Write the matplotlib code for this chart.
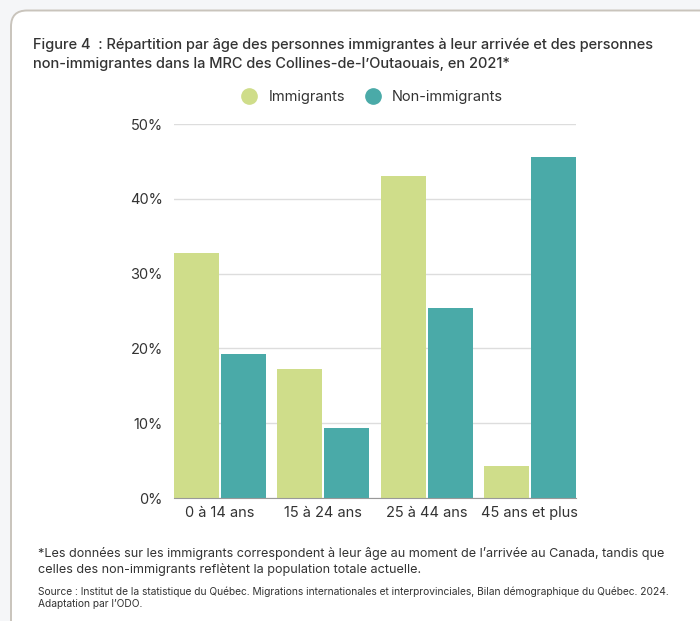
import matplotlib
matplotlib.use('Agg')
import matplotlib.pyplot as plt
from matplotlib.patches import FancyBboxPatch
from matplotlib.lines import Line2D
from matplotlib.transforms import IdentityTransform
import numpy as np

categories = ['0 à 14 ans', '15 à 24 ans', '25 à 44 ans', '45 ans et plus']
immigrants = [32.7, 17.2, 43.0, 4.3]
non_immigrants = [19.3, 9.4, 25.4, 45.6]
y_ticks = [0, 10, 20, 30, 40, 50]

title = ("Figure 4  : Répartition par âge des personnes immigrantes à leur arrivée et des personnes\n"
         "non-immigrantes dans la MRC des Collines-de-l’Outaouais, en 2021*")
note = ("*Les données sur les immigrants correspondent à leur âge au moment de l’arrivée au Canada, tandis que\n"
        "celles des non-immigrants reflètent la population totale actuelle.")
source = ("Source : Institut de la statistique du Québec. Migrations internationales et interprovinciales, "
          "Bilan démographique du Québec. 2024.\nAdaptation par l’ODO.")

c_imm = '#cfdd8a'
c_non = '#4aaaa8'
txt = '#333333'

plt.rcParams['font.family'] = ['Inter', 'DejaVu Sans']

W, H = 700, 621
fig = plt.figure(figsize=(W / 100, H / 100), dpi=100)
fig.patch.set_facecolor('#f5f6f8')

# white card with rounded corner, running off the right and bottom edges
box = FancyBboxPatch((11, -20), 720, H - 10 + 20 - 0.5,
                     boxstyle='round,pad=0,rounding_size=16',
                     transform=IdentityTransform(), facecolor='white',
                     edgecolor='#c9c4bc', linewidth=1.4, zorder=0)
fig.patches.append(box)


def px(x, y):
    return x / W, 1 - y / H


ax = fig.add_axes([174 / W, (H - 498) / H, (576 - 174) / W, (498 - 124) / H])
ax.set_facecolor('none')
ax.set_zorder(2)

x = np.arange(len(categories))
w = 0.437
off = 0.228
ax.bar(x - off, immigrants, w, color=c_imm, zorder=3)
ax.bar(x + off, non_immigrants, w, color=c_non, zorder=3)

ax.set_xlim(-0.4465, 3.4465)
ax.set_ylim(0, 50)
ax.set_yticks(y_ticks)
ax.set_yticklabels([f'{t}%' for t in y_ticks])
ax.set_xticks(x)
ax.set_xticklabels(categories)
ax.tick_params(axis='both', length=0, labelsize=10.5, colors=txt)
ax.tick_params(axis='y', pad=8)
ax.tick_params(axis='x', pad=6)
ax.grid(axis='y', color='#dddddd', linewidth=1, zorder=0)
for s in ['top', 'right', 'left']:
    ax.spines[s].set_visible(False)
ax.spines['bottom'].set_color('#999999')
ax.spines['bottom'].set_zorder(4)

fig.text(*px(33, 68), title, fontsize=10.5, fontweight='medium', color=txt,
         va='baseline', linespacing=1.45)

handles = [Line2D([], [], marker='o', linestyle='', markersize=11, color=c_imm),
           Line2D([], [], marker='o', linestyle='', markersize=11, color=c_non)]
leg = fig.legend(handles, ['Immigrants', 'Non-immigrants'], loc='center',
                 bbox_to_anchor=px(369, 97), ncol=2, frameon=False, fontsize=10.5,
                 handletextpad=0.3, columnspacing=0.95, labelcolor=txt)

fig.text(*px(38, 573), note, fontsize=9.1, color=txt, va='baseline', linespacing=1.35)
fig.text(*px(38, 607), source, fontsize=7.35, color=txt, va='baseline', linespacing=1.25)

fig.savefig('out.png', dpi=100, facecolor=fig.get_facecolor())
